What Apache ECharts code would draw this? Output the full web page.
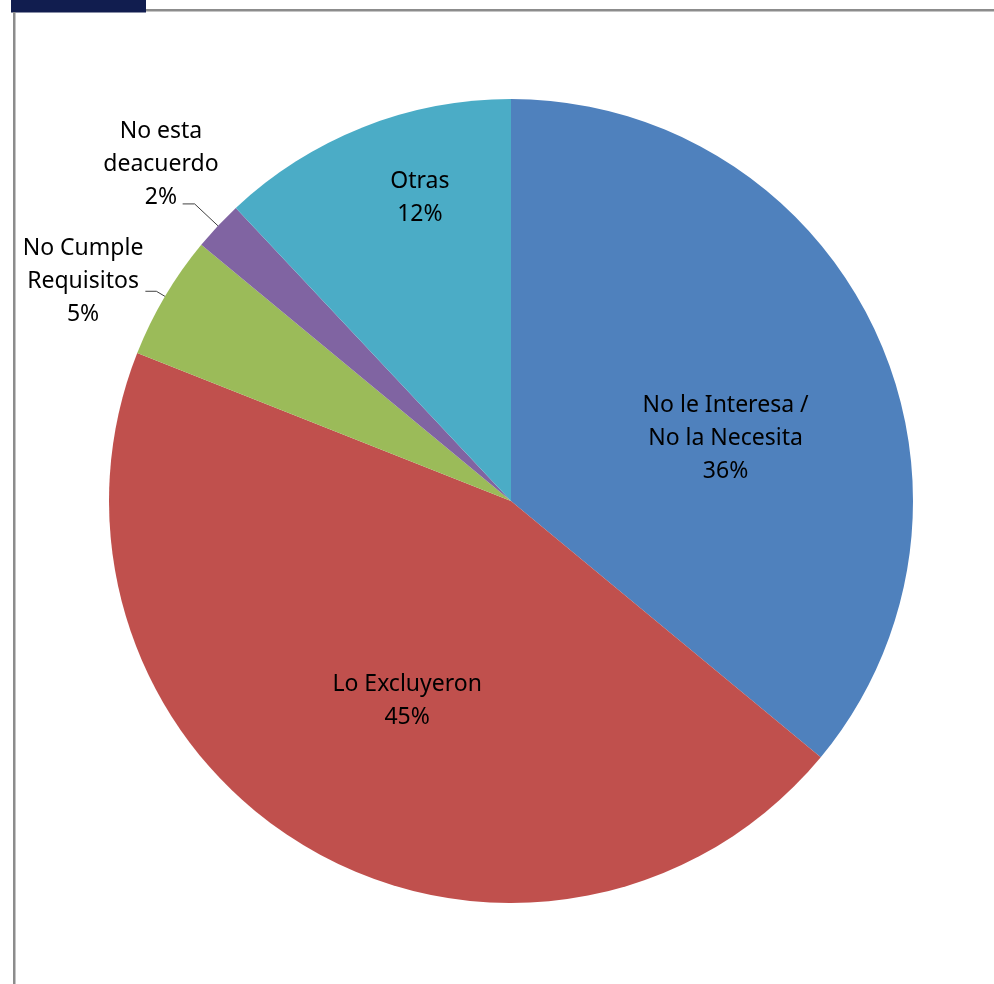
<!DOCTYPE html>
<html>
<head>
<meta charset="utf-8">
<script src="https://cdn.jsdelivr.net/npm/echarts@6/dist/echarts.min.js"></script>
<style>
html,body{margin:0;padding:0;background:#fff;}
#chart{width:994px;height:984px;}
</style>
</head>
<body>
<div id="chart"></div>
<script>
// ---- data ----
const categories = [
  "No le Interesa /\nNo la Necesita",
  "Lo Excluyeron",
  "No Cumple\nRequisitos",
  "No esta\ndeacuerdo",
  "Otras"
];
const values = [36, 45, 5, 2, 12];

// ---- styles (kept separate from data) ----
const colors = ["#4F81BD", "#C0504D", "#9BBB59", "#8064A2", "#4BACC6"];
const FONT = "'Noto Sans', sans-serif";
const FONT_SIZE = 23;
const labelModes = ["inside", "inside", "outside", "outside", "inside"];
const insideShift = [[30, 24], [0, 24], null, null, [-16, -113]];
const outsideCfg = [null, null,
  { length: 10, length2: 11, dist: 2, padBottom: 20 },
  { length: 32, length2: 12, dist: -36, padBottom: 78 },
  null];

function fmt(p) {
  const lines = p.name.split("\n").concat([p.percent.toFixed(0) + "%"]);
  return lines.map(l => "{t|" + l + "}").join("\n");
}

const richT = { t: { fontFamily: FONT, fontSize: FONT_SIZE, lineHeight: 33, color: "#000", align: "center" } };

const seriesData = categories.map((name, i) => {
  const item = { name: name, value: values[i], itemStyle: { color: colors[i] } };
  if (labelModes[i] === "inside") {
    item.label = { position: "inside", formatter: fmt, rich: richT };
    item.labelLine = { show: false };
  } else {
    const c = outsideCfg[i];
    item.label = {
      position: "outside",
      formatter: fmt,
      rich: richT,
      distanceToLabelLine: c.dist,
      padding: [0, 0, c.padBottom, 0]
    };
    item.labelLine = { show: true, length: c.length, length2: c.length2, smooth: false,
      lineStyle: { color: "#404040", width: 1 } };
  }
  return item;
});

const chart = echarts.init(document.getElementById("chart"), null, { renderer: "canvas" });
chart.setOption({
  animation: false,
  backgroundColor: "#ffffff",
  graphic: [
    { type: "rect", shape: { x: 11, y: 0, width: 135, height: 12.5 }, style: { fill: "#111D4F" }, z: 10 },
    { type: "rect", shape: { x: 146, y: 9, width: 848, height: 2.5 }, style: { fill: "#8C8C8C" }, z: 10 },
    { type: "rect", shape: { x: 13, y: 12, width: 2.5, height: 972 }, style: { fill: "#8C8C8C" }, z: 10 }
  ],
  series: [{
    type: "pie",
    center: [511, 501],
    radius: 402,
    startAngle: 90,
    clockwise: true,
    avoidLabelOverlap: false,
    itemStyle: { borderWidth: 0 },
    label: { show: true, fontFamily: FONT, fontSize: FONT_SIZE, color: "#000" },
    emphasis: { disabled: true },
    labelLayout: function (params) {
      const s = insideShift[params.dataIndex];
      if (s) return { dx: s[0], dy: s[1] };
      return {};
    },
    data: seriesData
  }]
});
</script>
</body>
</html>
